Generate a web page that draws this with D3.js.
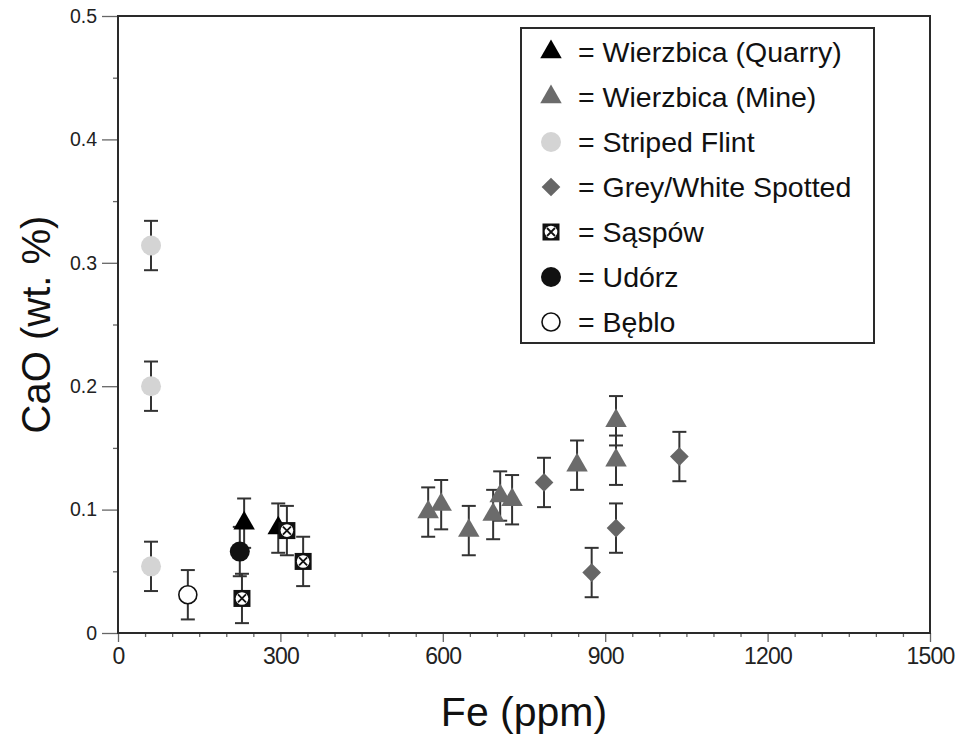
<!DOCTYPE html>
<html>
<head>
<meta charset="utf-8">
<script src="https://cdn.jsdelivr.net/npm/d3@7"></script>
<style>
  body { margin: 0; background: #fff; }
  svg { display: block; font-family: "Liberation Sans", Arial, Helvetica, sans-serif; }
</style>
</head>
<body>
<svg id="chart" width="961" height="734"></svg>
<script>
// ---- data (Fe ppm, CaO wt.%, +/- error) ----
const quarryFe  = [233, 296];
const quarryCaO = [0.089, 0.085];
const mineFe  = [573, 597, 648, 693, 706, 728, 848, 920, 920];
const mineCaO = [0.098, 0.104, 0.083, 0.096, 0.111, 0.108, 0.136, 0.172, 0.140];
const stripedFe  = [61, 61, 61];
const stripedCaO = [0.314, 0.200, 0.054];
const spottedFe  = [787, 875, 920, 1037];
const spottedCaO = [0.122, 0.049, 0.085, 0.143];
const saspowFe  = [229, 312, 342];
const saspowCaO = [0.028, 0.083, 0.058];
const udorzFe  = [225];
const udorzCaO = [0.066];
const bebloFe  = [129];
const bebloCaO = [0.031];
const caoError = 0.02;

const xTicks = [0, 300, 600, 900, 1200, 1500];
const yTicks = [0, 0.1, 0.2, 0.3, 0.4, 0.5];

const legendLabels = ["= Wierzbica (Quarry)", "= Wierzbica (Mine)", "= Striped Flint",
  "= Grey/White Spotted", "= Sąspów", "= Udórz", "= Bęblo"];

const zip = (xs, ys) => xs.map((v, i) => ({fe: v, cao: ys[i]}));
const series = [
  {key: "quarry",  pts: zip(quarryFe, quarryCaO)},
  {key: "mine",    pts: zip(mineFe, mineCaO)},
  {key: "striped", pts: zip(stripedFe, stripedCaO)},
  {key: "spotted", pts: zip(spottedFe, spottedCaO)},
  {key: "saspow",  pts: zip(saspowFe, saspowCaO)},
  {key: "udorz",   pts: zip(udorzFe, udorzCaO)},
  {key: "beblo",   pts: zip(bebloFe, bebloCaO)}
];

const svg = d3.select("#chart");
const mLeft = 118, mRight = 930, mTop = 16, mBottom = 633;
const x = d3.scaleLinear().domain([0, 1500]).range([mLeft, mRight]);
const y = d3.scaleLinear().domain([0, 0.5]).range([mBottom, mTop]);
const axisColor = "#2a2a2a";

// marker drawer
function drawMarker(g, key) {
  if (key === "quarry") {
    g.append("path").attr("d", d3.symbol(d3.symbolTriangle, 200)()).attr("fill", "#000");
  } else if (key === "mine") {
    g.append("path").attr("d", d3.symbol(d3.symbolTriangle, 200)()).attr("fill", "#6b6b6b");
  } else if (key === "striped") {
    g.append("circle").attr("r", 10).attr("fill", "#d4d4d4");
  } else if (key === "spotted") {
    g.append("path").attr("d", d3.symbol(d3.symbolSquare, 175)()).attr("transform", "rotate(45)").attr("fill", "#666");
  } else if (key === "saspow") {
    g.append("rect").attr("x", -8.5).attr("y", -8.5).attr("width", 17).attr("height", 17).attr("fill", "#111");
    g.append("circle").attr("r", 6.3).attr("fill", "#fff");
    g.append("path").attr("d", "M-4,-4L4,4M-4,4L4,-4").attr("stroke", "#111").attr("stroke-width", 1.8);
  } else if (key === "udorz") {
    g.append("circle").attr("r", 10).attr("fill", "#111");
  } else if (key === "beblo") {
    g.append("circle").attr("r", 9).attr("fill", "#fff").attr("stroke", "#111").attr("stroke-width", 1.6);
  }
}

// ---- axes ----
const yMinor = d3.axisLeft(y).tickValues(d3.range(0.05, 0.5, 0.1)).tickSize(5).tickFormat("");
svg.append("g").attr("transform", `translate(${mLeft},0)`).call(yMinor);
const yAxis = d3.axisLeft(y).tickValues(yTicks).tickSize(16).tickPadding(5).tickFormat(d => d === 0 ? "0" : d3.format(".1f")(d));
svg.append("g").attr("class", "yaxis").attr("transform", `translate(${mLeft},0)`).call(yAxis)
  .call(g => g.selectAll("text").attr("font-size", 19.5).attr("fill", "#222"));

const xMinor = d3.axisBottom(x).tickValues(d3.range(50, 1500, 50).filter(v => v % 300 !== 0)).tickSize(4).tickFormat("");
svg.append("g").attr("transform", `translate(0,${mBottom})`).call(xMinor);
const xAxis = d3.axisBottom(x).tickValues(xTicks).tickSize(9).tickPadding(6).tickFormat(d3.format("d"));
svg.append("g").attr("class", "xaxis").attr("transform", `translate(0,${mBottom})`).call(xAxis)
  .call(g => g.selectAll("text").attr("font-size", 23).attr("fill", "#222").attr("letter-spacing", "-0.8px"));

svg.selectAll(".domain").remove();
svg.selectAll(".tick line").attr("stroke", "#666").attr("stroke-width", 1.3);

// frame
svg.append("rect").attr("x", mLeft).attr("y", mTop).attr("width", mRight - mLeft).attr("height", mBottom - mTop)
  .attr("fill", "none").attr("stroke", axisColor).attr("stroke-width", 2);

// axis titles
svg.append("text").attr("x", (mLeft + mRight) / 2).attr("y", 726).attr("text-anchor", "middle")
  .attr("font-size", 41).attr("fill", "#111").text("Fe (ppm)");
svg.append("text").attr("transform", `translate(50,${(mTop + mBottom) / 2}) rotate(-90)`).attr("text-anchor", "middle")
  .attr("font-size", 40).attr("fill", "#111").text("CaO (wt. %)");

// ---- error bars ----
const plot = svg.append("g");
const allPts = series.flatMap(s => s.pts);
const bars = plot.selectAll(".err").data(allPts).join("g").attr("class", "err")
  .attr("stroke", "#333").attr("stroke-width", 2);
bars.append("line").attr("x1", d => x(d.fe)).attr("x2", d => x(d.fe))
  .attr("y1", d => y(d.cao + caoError)).attr("y2", d => y(d.cao - caoError));
bars.append("line").attr("x1", d => x(d.fe) - 7).attr("x2", d => x(d.fe) + 7)
  .attr("y1", d => y(d.cao + caoError)).attr("y2", d => y(d.cao + caoError));
bars.append("line").attr("x1", d => x(d.fe) - 7).attr("x2", d => x(d.fe) + 7)
  .attr("y1", d => y(d.cao - caoError)).attr("y2", d => y(d.cao - caoError));

// ---- markers ----
series.forEach(s => {
  plot.selectAll(".m-" + s.key).data(s.pts).join("g").attr("class", "m-" + s.key)
    .attr("transform", d => `translate(${x(d.fe)},${y(d.cao)})`)
    .each(function () { drawMarker(d3.select(this), s.key); });
});

// ---- legend ----
const legend = svg.append("g");
legend.append("rect").attr("x", 521).attr("y", 28).attr("width", 353).attr("height", 315)
  .attr("fill", "#fff").attr("stroke", axisColor).attr("stroke-width", 2);
const rowY = d3.scaleLinear().domain([0, 6]).range([52, 322]);
series.forEach((s, i) => {
  const row = legend.append("g").attr("transform", `translate(551,${rowY(i)})`);
  drawMarker(row, s.key);
  legend.append("text").attr("x", 578).attr("y", rowY(i) + 10).attr("font-size", 28.5).attr("fill", "#111").text(legendLabels[i]);
});
</script>
</body>
</html>
